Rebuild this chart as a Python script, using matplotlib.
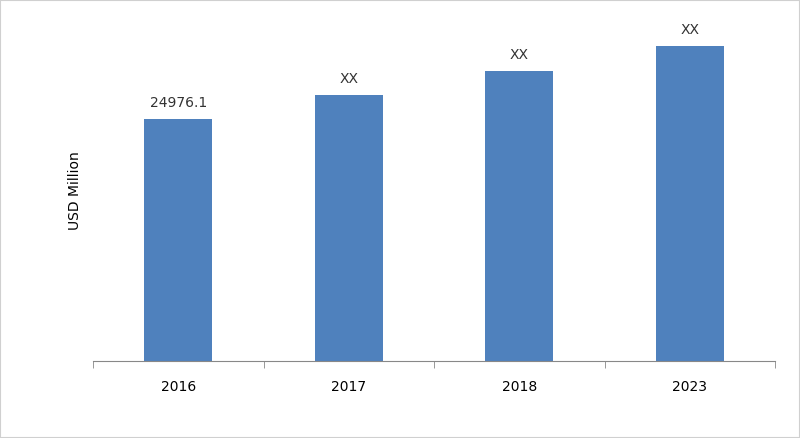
import matplotlib.pyplot as plt
from matplotlib.patches import Rectangle

# data
years = ["2016", "2017", "2018", "2023"]
values = [24976.1, 27450, 29930, 32510]
labels = ["24976.1", "XX", "XX", "XX"]

fig = plt.figure(figsize=(8, 4.38), dpi=100)
ax = fig.add_axes([93/800, 77/438, 682/800, 341/438])

x = range(len(years))
bars = ax.bar(x, values, width=0.4, color="#4f81bd")
for b, lab in zip(bars, labels):
    ax.text(b.get_x() + b.get_width()/2, b.get_height() + 900, lab,
            ha="center", va="bottom", fontsize=10, color="#333333")

ax.set_xlim(-0.5, len(years) - 0.5)
ax.set_ylim(0, 35200)
ax.set_xticks(x)
ax.set_xticklabels(years, fontsize=10)
ax.set_xticks([i - 0.5 for i in range(len(years) + 1)], minor=True)
ax.tick_params(axis="x", which="major", length=0, pad=14)
ax.tick_params(axis="x", which="minor", length=5, color="#888888")
ax.set_yticks([])
for s in ["top", "right", "left"]:
    ax.spines[s].set_visible(False)
ax.spines["bottom"].set_color("#888888")
ax.set_ylabel("USD Million", fontsize=10, labelpad=8)

fig.patches.append(Rectangle((0, 0), 1, 1, transform=fig.transFigure,
                             fill=False, edgecolor="#d0d0d0", linewidth=1.5))
fig.savefig("out.png", dpi=100)
